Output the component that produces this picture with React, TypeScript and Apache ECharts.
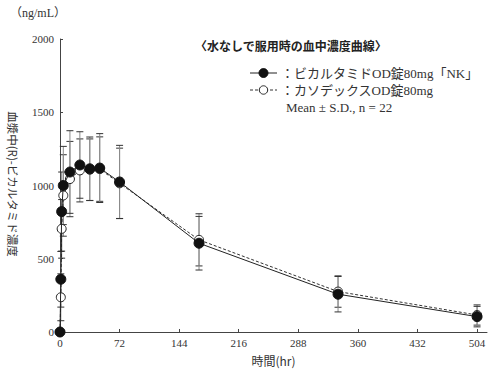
import React, { useEffect, useRef } from "react";
import * as echarts from "echarts";

const times = [0, 1, 2, 4, 12, 24, 36, 48, 72, 168, 336, 504];
const nkMean = [0, 360, 822, 1000, 1092, 1140, 1114, 1119, 1024, 606, 258, 105];
const nkSD = [0, 190, 270, 267, 282, 227, 217, 235, 250, 183, 121, 70];
const casMean = [0, 237, 704, 932, 1044, 1103, 1108, 1112, 1015, 629, 276, 116];
const casSD = [0, 160, 200, 278, 257, 215, 210, 220, 240, 178, 107, 69];
const xTicks = [0, 72, 144, 216, 288, 360, 432, 504];
const yTicks = [0, 500, 1000, 1500, 2000];

const nkName = "ビカルタミドOD錠80mg「NK」";
const casName = "カソデックスOD錠80mg";
const titleText = "〈水なしで服用時の血中濃度曲線〉";
const yUnit = "（ng/mL）";
const yName = "血漿中(R)-ビカルタミド濃度";
const xName = "時間(hr)";
const noteText = "Mean ± S.D., n = 22";

const SERIF = '"Liberation Serif", "DejaVu Serif", "Noto Sans CJK JP", serif';
const CJK = '"Noto Sans CJK JP", sans-serif';

function errData(mean: number[], sd: number[]) {
  return times
    .map((t, i) => [t, mean[i] - sd[i], mean[i] + sd[i]])
    .filter((d, i) => sd[i] > 0);
}

function errorRenderer(params: any, api: any) {
  const x = api.value(0);
  const lo = api.value(1);
  const hi = api.value(2);
  const p1 = api.coord([x, hi]);
  const p2 = api.coord([x, lo]);
  const w = 3.5;
  return {
    type: "group",
    children: [
      {
        type: "line",
        shape: { x1: p1[0], y1: p1[1], x2: p2[0], y2: p2[1] },
        style: { stroke: "#8a8a8a", lineWidth: 1 },
      },
      {
        type: "line",
        shape: { x1: p1[0] - w, y1: p1[1], x2: p1[0] + w, y2: p1[1] },
        style: { stroke: "#333", lineWidth: 1 },
      },
      {
        type: "line",
        shape: { x1: p2[0] - w, y1: p2[1], x2: p2[0] + w, y2: p2[1] },
        style: { stroke: "#333", lineWidth: 1 },
      },
    ],
  };
}

export default function App() {
  const ref = useRef<HTMLDivElement>(null);
  useEffect(() => {
    if (!ref.current) return;
    const chart = echarts.init(ref.current, undefined, { renderer: "svg" });
    chart.setOption({
      animation: false,
      backgroundColor: "#fff",
      grid: { left: 60, right: 5, top: 39, bottom: 39, containLabel: false },
      xAxis: {
        type: "value",
        min: 0,
        max: 516,
        interval: 72,
        name: xName,
        nameLocation: "middle",
        nameGap: 22,
        nameTextStyle: { fontFamily: CJK, fontSize: 12, color: "#333" },
        axisLine: { lineStyle: { color: "#444", width: 1 } },
        axisTick: { inside: true, length: 3, customValues: xTicks, lineStyle: { color: "#444" } },
        axisLabel: {
          customValues: xTicks,
          formatter: (v: number) => String(v),
          fontFamily: SERIF,
          fontSize: 11,
          color: "#333",
          margin: 6,
        },
        splitLine: { show: false },
      },
      yAxis: {
        type: "value",
        min: 0,
        max: 2000,
        interval: 500,
        axisLine: { show: true, lineStyle: { color: "#444", width: 1 } },
        axisTick: { show: true, inside: true, length: 3, customValues: yTicks, lineStyle: { color: "#444" } },
        axisLabel: {
          customValues: yTicks,
          formatter: (v: number) => String(v),
          fontFamily: SERIF,
          fontSize: 11,
          color: "#333",
          margin: 6,
        },
        splitLine: { show: false },
      },
      series: [
        {
          name: "casErr",
          type: "custom",
          renderItem: errorRenderer,
          data: errData(casMean, casSD),
          z: 1,
          silent: true,
        },
        {
          name: "nkErr",
          type: "custom",
          renderItem: errorRenderer,
          data: errData(nkMean, nkSD),
          z: 1,
          silent: true,
        },
        {
          name: casName,
          type: "line",
          data: times.map((t, i) => [t, casMean[i]]),
          symbol: "circle",
          symbolSize: 9,
          showAllSymbol: true,
          lineStyle: { color: "#333", width: 1, type: [3, 2] },
          itemStyle: { color: "#fff", borderColor: "#222", borderWidth: 1 },
          z: 3,
        },
        {
          name: nkName,
          type: "line",
          data: times.map((t, i) => [t, nkMean[i]]),
          symbol: "circle",
          symbolSize: 10,
          showAllSymbol: true,
          lineStyle: { color: "#222", width: 1 },
          itemStyle: { color: "#111", borderColor: "#111", borderWidth: 1 },
          z: 4,
        },
      ],
      graphic: [
        {
          type: "text",
          x: 10,
          y: 13,
          style: { text: yUnit, fontFamily: SERIF, fontSize: 12, fill: "#333", verticalAlign: "middle" },
        },
        {
          type: "text",
          x: 195,
          y: 45,
          style: {
            text: titleText,
            fontFamily: CJK,
            fontSize: 12,
            fontWeight: "bold",
            fill: "#222",
            verticalAlign: "middle",
          },
        },
        // legend row 1
        { type: "line", shape: { x1: 250, y1: 73, x2: 277, y2: 73 }, style: { stroke: "#222", lineWidth: 1 } },
        { type: "circle", shape: { cx: 263.5, cy: 73, r: 4.5 }, style: { fill: "#111", stroke: "#111" } },
        {
          type: "text",
          x: 281,
          y: 73,
          style: { text: "：" + nkName, fontFamily: SERIF, fontSize: 13, fill: "#333", verticalAlign: "middle" },
        },
        // legend row 2
        {
          type: "line",
          shape: { x1: 250, y1: 90, x2: 277, y2: 90 },
          style: { stroke: "#333", lineWidth: 1, lineDash: [3, 2] },
        },
        { type: "circle", shape: { cx: 263.5, cy: 90, r: 4.2 }, style: { fill: "#fff", stroke: "#222", lineWidth: 1 } },
        {
          type: "text",
          x: 281,
          y: 90,
          style: { text: "：" + casName, fontFamily: SERIF, fontSize: 13, fill: "#333", verticalAlign: "middle" },
        },
        {
          type: "text",
          x: 286,
          y: 107,
          style: { text: noteText, fontFamily: SERIF, fontSize: 13, fill: "#333", verticalAlign: "middle" },
        },
        // y axis name, reading top to bottom
        {
          type: "text",
          x: 13,
          y: 184,
          rotation: -Math.PI / 2,
          style: {
            text: yName,
            fontFamily: CJK,
            fontSize: 11.5,
            align: "center",
            verticalAlign: "middle",
            fill: "#333",
          },
        },
      ],
    });
    return () => chart.dispose();
  }, []);
  return (
    <div
      ref={ref}
      style={{ position: "fixed", left: 0, top: 0, width: 492, height: 371 }}
    />
  );
}
